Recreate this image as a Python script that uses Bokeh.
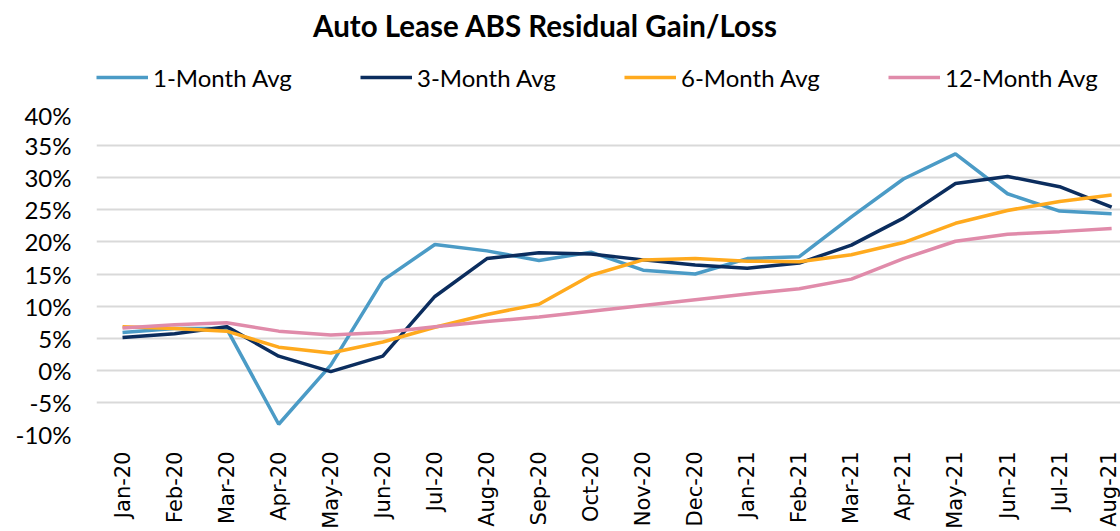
import math
from bokeh.plotting import figure
from bokeh.layouts import column
from bokeh.models import (Legend, LegendItem, FixedTicker, Range1d, NumeralTickFormatter,
                          ColumnDataSource, Label)
from bokeh.embed import file_html
from bokeh.resources import INLINE

months = ["Jan-20", "Feb-20", "Mar-20", "Apr-20", "May-20", "Jun-20", "Jul-20", "Aug-20",
          "Sep-20", "Oct-20", "Nov-20", "Dec-20", "Jan-21", "Feb-21", "Mar-21", "Apr-21",
          "May-21", "Jun-21", "Jul-21", "Aug-21"]

avg_1m = [5.9, 6.5, 6.5, -8.4, 0.8, 14.0, 19.6, 18.6, 17.1, 18.4, 15.6, 15.0, 17.4, 17.7,
          23.9, 29.8, 33.7, 27.5, 24.8, 24.4]
avg_3m = [5.1, 5.7, 6.8, 2.2, -0.2, 2.2, 11.5, 17.4, 18.3, 18.1, 17.2, 16.4, 15.9, 16.7,
          19.5, 23.7, 29.1, 30.2, 28.6, 25.4]
avg_6m = [6.8, 6.5, 6.1, 3.6, 2.7, 4.4, 6.7, 8.7, 10.3, 14.8, 17.2, 17.4, 17.0, 16.9,
          18.0, 19.9, 22.9, 24.9, 26.3, 27.3]
avg_12m = [6.6, 7.1, 7.4, 6.1, 5.5, 5.9, 6.8, 7.6, 8.3, 9.2, 10.1, 11.0, 11.9, 12.7,
           14.2, 17.4, 20.1, 21.2, 21.6, 22.1]

series_names = ["1-Month Avg", "3-Month Avg", "6-Month Avg", "12-Month Avg"]
series_values = [avg_1m, avg_3m, avg_6m, avg_12m]
colors = ["#4B9BC6", "#0B2D5E", "#FFAA1E", "#E08BAA"]
y_ticks = [-0.10, -0.05, 0.0, 0.05, 0.10, 0.15, 0.20, 0.25, 0.30, 0.35, 0.40]
title_text = "Auto Lease ABS Residual Gain/Loss"

idx = list(range(len(months)))
sources = [ColumnDataSource(dict(x=idx, y=[v / 100.0 for v in vals])) for vals in series_values]

W = 1120
HEAD_H = 100
LEFT = 96

# ---- header: title + legend ----
head = figure(width=W, height=HEAD_H, output_backend="svg", toolbar_location=None,
              title=None, x_range=Range1d(LEFT, W), y_range=Range1d(0, HEAD_H),
              x_axis_location=None, y_axis_location=None,
              min_border_left=LEFT, min_border_right=0, min_border_top=0, min_border_bottom=0)
head.outline_line_color = None
head.xgrid.visible = False
head.ygrid.visible = False

head.add_layout(Label(x=545, y=75, text=title_text, text_align="center", text_baseline="middle",
                      text_font="Lato", text_font_style="bold", text_font_size="29.5px",
                      text_color="#000000"))

leg_items = []
for name, src, c in zip(series_names, sources, colors):
    r = head.line("x", "y", source=src, line_color=c, line_width=3.5, visible=False)
    leg_items.append(LegendItem(label=name, renderers=[r]))

legend = Legend(items=leg_items, orientation="horizontal", location=(0, 8),
                border_line_color=None, background_fill_alpha=0,
                inactive_fill_alpha=0,
                padding=0, margin=0, spacing=6, glyph_width=52, glyph_height=30,
                label_standoff=5, label_width=201,
                label_text_font="Lato", label_text_font_size="24px",
                label_text_color="#000000")
head.add_layout(legend, "center")

# ---- main chart ----
p = figure(width=W, height=531 - HEAD_H, output_backend="svg", toolbar_location=None,
           title=None, x_range=Range1d(-0.5, 19.17), y_range=Range1d(-0.10, 0.40),
           min_border_left=LEFT, min_border_right=0, min_border_bottom=95, min_border_top=13)

for src, c in zip(sources, colors):
    p.line("x", "y", source=src, line_color=c, line_width=3.5)

p.outline_line_color = None
p.xgrid.grid_line_color = None
p.ygrid.grid_line_color = "#D9D9D9"
p.ygrid.grid_line_width = 2

p.yaxis.ticker = FixedTicker(ticks=y_ticks)
p.yaxis.formatter = NumeralTickFormatter(format="0%")
p.yaxis.axis_line_color = None
p.yaxis.major_tick_line_color = None
p.yaxis.minor_tick_line_color = None
p.yaxis.major_tick_out = 0
p.yaxis.major_tick_in = 0
p.yaxis.minor_tick_out = 0
p.yaxis.major_label_standoff = 25
p.yaxis.major_label_text_font = "Lato"
p.yaxis.major_label_text_font_size = "24px"
p.yaxis.major_label_text_color = "#000000"

p.xaxis.ticker = FixedTicker(ticks=idx)
p.xaxis.major_label_overrides = {i: m for i, m in zip(idx, months)}
p.xaxis.major_label_orientation = math.pi / 2
p.xaxis.axis_line_color = None
p.xaxis.major_tick_line_color = None
p.xaxis.minor_tick_line_color = None
p.xaxis.major_tick_out = 0
p.xaxis.major_tick_in = 0
p.xaxis.minor_tick_out = 0
p.xaxis.major_label_standoff = 17
p.xaxis.major_label_text_font = "DejaVu Sans"
p.xaxis.major_label_text_font_size = "21px"
p.xaxis.major_label_text_color = "#000000"

layout = column(head, p, spacing=0)
open("out.html", "w").write(file_html(layout, INLINE))
